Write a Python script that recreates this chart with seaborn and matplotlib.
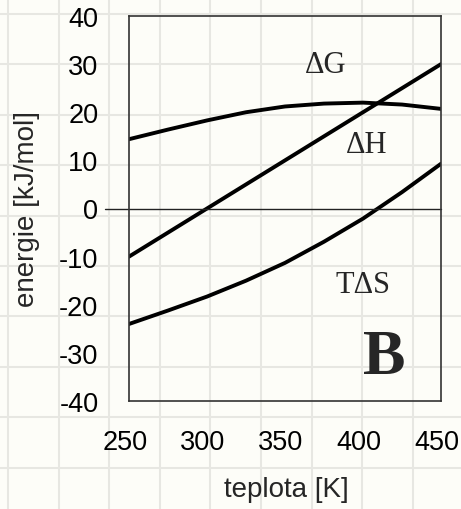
import matplotlib
matplotlib.use("Agg")
import matplotlib.pyplot as plt
import matplotlib.transforms as mtransforms
import seaborn as sns
import pandas as pd
import numpy as np

# ---- data ----
teplota = [250, 275, 300, 325, 350, 375, 400, 425, 450]
dG = [14.4, 16.4, 18.3, 20.0, 21.2, 21.8, 22.0, 21.6, 20.7]
dH = [-10.0, -5.0, 0.0, 5.0, 10.0, 15.0, 20.0, 25.0, 30.0]
TdS = [-24.0, -21.2, -18.3, -15.0, -11.3, -6.9, -2.1, 3.4, 9.3]
series_names = ["ΔG", "ΔH", "TΔS"]
x_ticks = [250, 300, 350, 400, 450]
y_ticks = [-40, -30, -20, -10, 0, 10, 20, 30, 40]

df = pd.DataFrame({
    "teplota": teplota * 3,
    "energie": dG + dH + TdS,
    "veličina": [series_names[0]] * len(teplota) + [series_names[1]] * len(teplota) + [series_names[2]] * len(teplota),
})

sns.set_style("white")
plt.rcParams["font.family"] = ["Liberation Sans", "DejaVu Sans"]
plt.rcParams["axes.unicode_minus"] = False

W, H = 461, 510
fig = plt.figure(figsize=(W / 100, H / 100), dpi=100)
bg = "#fdfdf8"
fig.patch.set_facecolor(bg)

# graph-paper background
gax = fig.add_axes([0, 0, 1, 1], zorder=-5)
gax.set_xlim(0, W)
gax.set_ylim(H, 0)
gax.axis("off")
for gx in np.arange(8, W, 50.6):
    gax.axvline(gx, color="#e7e7e2", lw=1.5)
for gy in np.arange(15, H, 50.4):
    gax.axhline(gy, color="#e7e7e2", lw=1.5)

ax = fig.add_axes([129 / W, 1 - 402 / H, 312 / W, 385 / H])
ax.patch.set_alpha(0)

sns.lineplot(data=df, x="teplota", y="energie", hue="veličina",
             palette=["black"] * 3, linewidth=2.8, legend=False, ax=ax)

ax.set_xlim(250, 450)
ax.set_ylim(-40, 40)
ax.set_xticks(x_ticks)
ax.set_yticks(y_ticks)
ax.tick_params(direction="in", length=6, width=1.1, color="#333333",
               labelsize=19.5, labelcolor="black")
ax.tick_params(axis="y", pad=22)
ax.tick_params(axis="x", pad=20)
for s in ax.spines.values():
    s.set_color("#333333")
    s.set_linewidth(1.2)

# shift x tick labels slightly left, as in the reference
shift = mtransforms.ScaledTranslation(-4 / 100, 0, fig.dpi_scale_trans)
for lab in ax.get_xticklabels():
    lab.set_transform(lab.get_transform() + shift)

# zero line extending left of the axis
ax.plot([-0.077, 1.0], [0, 0], transform=ax.get_yaxis_transform(),
        color="#222222", lw=1.0, clip_on=False)

ax.set_xlabel("teplota [K]", fontsize=20)
ax.set_ylabel("energie [kJ/mol]", fontsize=20)
ax.xaxis.set_label_coords(0.505, -0.195)
ax.yaxis.set_label_coords(-0.285, 0.5)

serif = ["Liberation Serif", "DejaVu Serif"]
ax.text(376, 28.4, "ΔG", family=serif, fontsize=22, ha="center", va="baseline")
ax.text(402.6, 11.7, "ΔH", family=serif, fontsize=22, ha="center", va="baseline")
ax.text(399.7, -17.4, "TΔS", family=serif, fontsize=22, ha="center", va="baseline")
ax.text(413.5, -34.1, "B", family=serif, fontsize=46, fontweight="bold",
        ha="center", va="baseline")

fig.savefig("out.png", dpi=100, facecolor=bg)
